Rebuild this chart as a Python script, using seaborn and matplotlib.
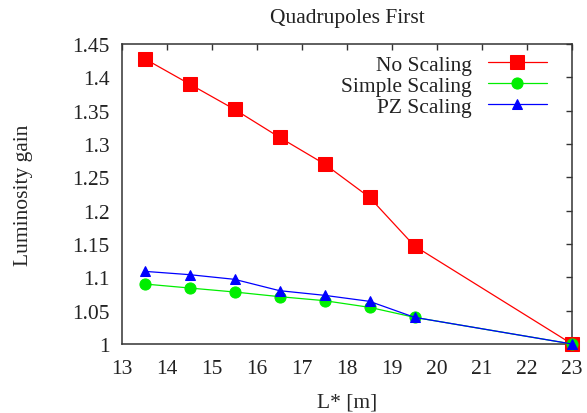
import matplotlib
matplotlib.use("Agg")
import matplotlib.pyplot as plt
import seaborn as sns
import pandas as pd

# Final-focus length L* [m] and luminosity gain for each scaling scheme
l_star = [13.5, 14.5, 15.5, 16.5, 17.5, 18.5, 19.5, 23.0]
no_scaling = [1.428, 1.390, 1.352, 1.310, 1.270, 1.220, 1.147, 1.000]
simple_scaling = [1.090, 1.084, 1.078, 1.071, 1.065, 1.055, 1.040, 1.000]
pz_scaling = [1.109, 1.104, 1.097, 1.080, 1.073, 1.064, 1.040, 1.000]

series_names = ["No Scaling", "Simple Scaling", "PZ Scaling"]
x_ticks = list(range(13, 24))
y_ticks = [1.0, 1.05, 1.1, 1.15, 1.2, 1.25, 1.3, 1.35, 1.4, 1.45]
y_tick_labels = ["1", "1.05", "1.1", "1.15", "1.2", "1.25", "1.3", "1.35", "1.4", "1.45"]

frames = []
for name, vals in zip(series_names, [no_scaling, simple_scaling, pz_scaling]):
    frames.append(pd.DataFrame({"L": l_star, "gain": vals, "series": name}))
df = pd.concat(frames, ignore_index=True)

sns.set_theme(style="white")
plt.rcParams["font.family"] = ["Liberation Serif", "DejaVu Serif"]
plt.rcParams["text.color"] = "#222222"

fig = plt.figure(figsize=(5.87, 4.14), dpi=100)
ax = fig.add_axes([122 / 587, 1 - 345 / 414, 450 / 587, 300 / 414])

styles = {
    "No Scaling": dict(color="#ff0000", marker="s", ms=9.5),
    "Simple Scaling": dict(color="#00ee00", marker="o", ms=8),
    "PZ Scaling": dict(color="#0000ff", marker="^", ms=7.5),
}
for name in series_names:
    st = styles[name]
    sns.lineplot(data=df[df["series"] == name], x="L", y="gain", ax=ax,
                 color=st["color"], marker=st["marker"], markersize=st["ms"],
                 markeredgecolor=st["color"], linewidth=0.9, label=name,
                 clip_on=False, zorder=3)

ax.set_xlim(13, 23)
ax.set_ylim(1.0, 1.45)
ax.set_xticks(x_ticks)
ax.set_yticks(y_ticks)
ax.set_yticklabels(y_tick_labels)

for s in ax.spines.values():
    s.set_color("#333333")
    s.set_linewidth(1.1)
ax.tick_params(direction="in", length=4.5, width=1.0, color="#333333",
               top=True, right=True, labelsize=15.5, labelcolor="#222222")
ax.tick_params(axis="x", pad=11)
ax.tick_params(axis="y", pad=9)

ax.set_title("Quadrupoles First", fontsize=15.5, pad=16)
ax.set_xlabel("L* [m]", fontsize=15.5)
ax.set_ylabel("Luminosity gain", fontsize=15.5)
ax.xaxis.set_label_coords(0.5, -0.162)
ax.yaxis.set_label_coords(-0.198, 0.5)

leg = ax.legend(loc="upper right", bbox_to_anchor=(0.944, 0.965), frameon=False,
                markerfirst=False, fontsize=15.5, handlelength=2.75,
                handletextpad=0.75, labelspacing=0.05, borderpad=0,
                borderaxespad=0)

fig.savefig("out.png", dpi=100)
